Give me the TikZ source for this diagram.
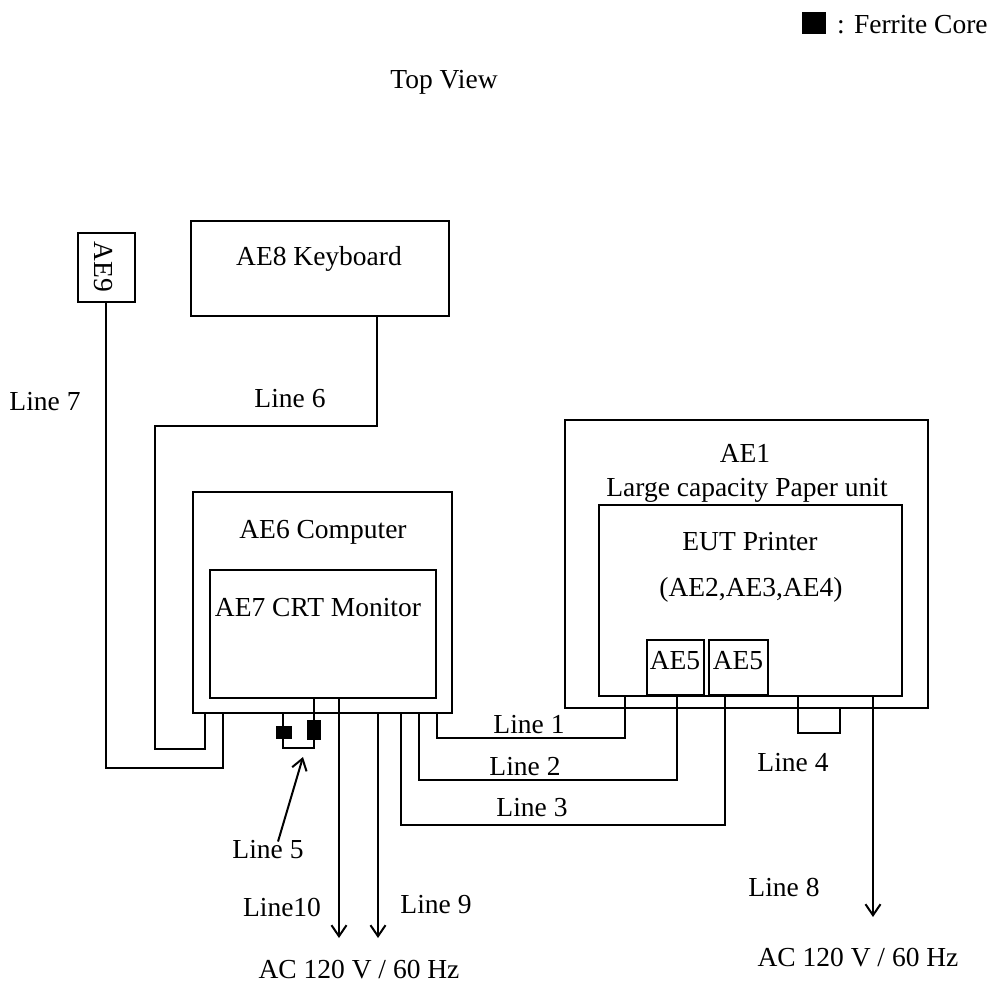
\documentclass[tikz,border=0pt]{standalone}
\usepackage{fontspec}
\setmainfont{Liberation Serif}
\usetikzlibrary{arrows.meta}
\newcommand\diagfont{\fontsize{27.5}{33}\selectfont}
\tikzset{
  box/.style={draw, line width=2pt, inner sep=0pt, fill=none},
  txt/.style={inner sep=0pt, font=\diagfont, text height=18.5pt, text depth=0pt},
  wire/.style={line width=2pt},
  arr/.style={line width=2pt, -{Straight Barb[length=11pt,width=15pt,line width=2pt]}},
  ferrite/.style={fill=black, draw=black, inner sep=0pt},
}
\begin{document}
\begin{tikzpicture}[x=1pt,y=-1pt]
\useasboundingbox (0,0) rectangle (997,985);
% legend and title
\node[ferrite, minimum width=23pt, minimum height=21pt] (legsq) at (813.5,22.5) {};
\node[txt, anchor=west] (legtxt) at (837,24) {: Ferrite Core};
\node[txt] (title) at (444,79) {Top View};
% boxes
\node[box, minimum width=57pt, minimum height=69pt] (ae9) at (106,267.5) {};
\node[txt, rotate=-90] (ae9t) at (104,267) {AE9};
\node[box, minimum width=258pt, minimum height=95pt] (kb) at (320,268.5) {};
\node[txt] (kbt) at (319,256) {AE8 Keyboard};
\node[box, minimum width=259pt, minimum height=221pt] (ae6) at (322.5,602.5) {};
\node[txt] (ae6t) at (323,529) {AE6 Computer};
\node[box, minimum width=226pt, minimum height=128pt] (ae7) at (323,634) {};
\node[txt] (ae7t) at (318,607) {AE7 CRT Monitor};
\node[box, minimum width=363pt, minimum height=288pt] (ae1) at (746.5,564) {};
\node[txt] (ae1t) at (745,453) {AE1};
\node[txt] (ae1t2) at (747,487) {Large capacity Paper unit};
\node[box, minimum width=303pt, minimum height=191pt] (eut) at (750.5,600.5) {};
\node[txt] (eutt) at (750,541) {EUT Printer};
\node[txt] (eutt2) at (751,587) {(AE2,AE3,AE4)};
\node[box, minimum width=57pt, minimum height=55pt] (ae5a) at (675.5,667.5) {};
\node[txt] (ae5at) at (675,660) {AE5};
\node[box, minimum width=59pt, minimum height=55pt] (ae5b) at (738.5,667.5) {};
\node[txt] (ae5bt) at (738,660) {AE5};
% line labels
\node[txt] (l1) at (529,724) {Line 1};
\node[txt] (l2) at (525,766) {Line 2};
\node[txt] (l3) at (532,807) {Line 3};
\node[txt] (l4) at (793,762) {Line 4};
\node[txt] (l5) at (268,849) {Line 5};
\node[txt] (l6) at (290,398) {Line 6};
\node[txt] (l7) at (45,401) {Line 7};
\node[txt] (l8) at (784,887) {Line 8};
\node[txt] (l9) at (436,904) {Line 9};
\node[txt] (l10) at (282,907) {Line10};
\node[txt] (acl) at (359,969) {AC 120 V / 60 Hz};
\node[txt] (acr) at (858,957) {AC 120 V / 60 Hz};
% free ends
\coordinate (l10end) at (339,938);
\coordinate (l9end) at (378,938);
\coordinate (l8end) at (873,917);
\coordinate (l5tip) at (303,757);
% Line 6
\draw[wire] ([xshift=57pt]kb.south) -- ++(0,109) -| ++(-222,323) -| ([xshift=-117.5pt]ae6.south);
% Line 7
\draw[wire] (ae9.south) -- ++(0,465) -| ([xshift=-99.5pt]ae6.south);
% Line 10 and Line 9
\draw[arr] (ae7.south -| l10end) -- (l10end);
\draw[arr] (ae6.south -| l9end) -- (l9end);
% Line 5 with ferrite cores
\draw[wire] ([xshift=-9pt]ae7.south) -- ++(0,49) -| ([xshift=-39.5pt]ae6.south);
\node[ferrite, minimum width=13pt, minimum height=19pt] (fa) at (314,729.5) {};
\node[ferrite, minimum width=15pt, minimum height=12pt] (fb) at (283.5,732) {};
\draw[arr] ([xshift=10pt,yshift=-2pt]l5.north) -- (l5tip);
% Lines 1-3
\draw[wire] ([xshift=114.5pt]ae6.south) -- ++(0,24) -| ([xshift=-125.5pt]eut.south);
\draw[wire] ([xshift=96.5pt]ae6.south) -- ++(0,66) -| ([xshift=1.5pt]ae5a.south);
\draw[wire] ([xshift=78.5pt]ae6.south) -- ++(0,111) -| ([xshift=-13.5pt]ae5b.south);
% Line 4 loop
\draw[wire] ([xshift=47.5pt]eut.south) -- ++(0,36) -| ([xshift=93.5pt]ae1.south);
% Line 8
\draw[arr] (eut.south -| l8end) -- (l8end);
\end{tikzpicture}
\end{document}
